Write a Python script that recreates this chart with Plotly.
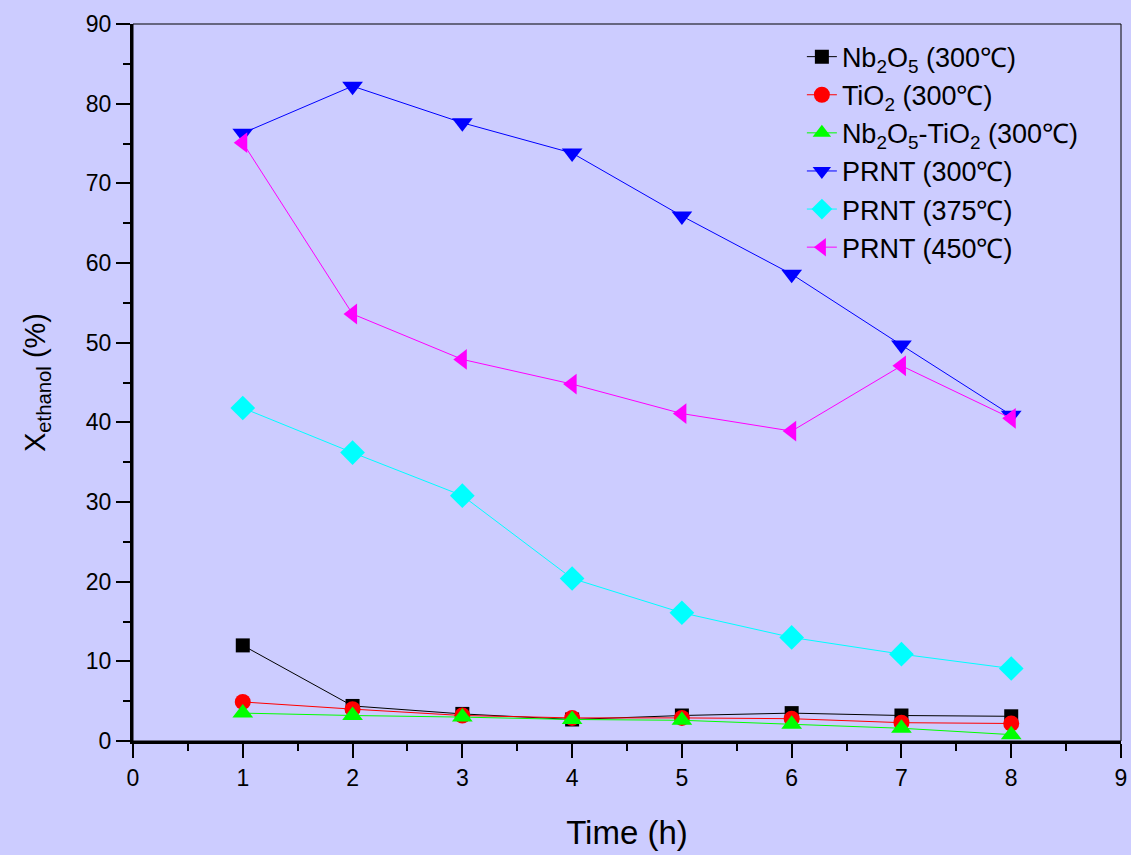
import plotly.graph_objects as go

time_h = [1, 2, 3, 4, 5, 6, 7, 8]
nb2o5_300 = [12.0, 4.4, 3.4, 2.7, 3.2, 3.5, 3.2, 3.1]
tio2_300 = [4.9, 4.0, 3.2, 2.9, 2.9, 2.8, 2.3, 2.2]
nb2o5_tio2_300 = [3.5, 3.2, 3.0, 2.7, 2.6, 2.1, 1.6, 0.8]
prnt_300 = [76.3, 82.2, 77.6, 73.8, 65.9, 58.6, 49.7, 40.9]
prnt_375 = [41.8, 36.2, 30.8, 20.4, 16.1, 13.0, 10.9, 9.1]
prnt_450 = [75.1, 53.6, 47.9, 44.8, 41.1, 38.9, 47.1, 40.5]

series = [
    ("Nb<sub>2</sub>O<sub>5</sub> (300℃)", nb2o5_300, "black", "square", 14),
    ("TiO<sub>2</sub> (300℃)", tio2_300, "red", "circle", 16),
    ("Nb<sub>2</sub>O<sub>5</sub>-TiO<sub>2</sub> (300℃)", nb2o5_tio2_300, "#00FF00", "triangle-up", 18),
    ("PRNT (300℃)", prnt_300, "blue", "triangle-down", 18),
    ("PRNT (375℃)", prnt_375, "cyan", "diamond", 19),
    ("PRNT (450℃)", prnt_450, "magenta", "triangle-left", 18),
]

fig = go.Figure()
for name, ys, color, sym, size in series:
    fig.add_trace(go.Scatter(
        x=time_h, y=ys, name=name, mode="lines+markers",
        line=dict(color=color, width=1),
        marker=dict(symbol=sym, size=size, color=color, line=dict(width=0)),
    ))

bg = "#CCCCFF"
fig.update_layout(
    width=1131, height=855,
    paper_bgcolor=bg, plot_bgcolor=bg,
    margin=dict(l=133, r=10, t=24, b=114),
    font=dict(family="Liberation Sans, Arial, sans-serif", color="black", size=22),
    legend=dict(x=0.677, y=0.988, xanchor="left", yanchor="top",
                bgcolor="rgba(0,0,0,0)", font=dict(size=27),
                tracegroupgap=0),
    showlegend=True,
)
fig.update_xaxes(
    range=[0, 9], tickmode="linear", tick0=0, dtick=1,
    ticks="outside", ticklen=14, tickwidth=2, tickcolor="black",
    minor=dict(dtick=0.5, ticks="outside", ticklen=7, tickwidth=2, tickcolor="black"),
    showline=True, linecolor="black", linewidth=3,
    showgrid=False, zeroline=False, automargin=False,
    title=dict(text="Time (h)", font=dict(size=33), standoff=32),
    tickfont=dict(size=23),
)
fig.update_yaxes(
    range=[0, 90], tickmode="linear", tick0=0, dtick=10,
    ticks="outside", ticklen=14, tickwidth=2, tickcolor="black",
    minor=dict(dtick=5, ticks="outside", ticklen=7, tickwidth=2, tickcolor="black"),
    showline=True, linecolor="black", linewidth=3,
    showgrid=False, zeroline=False, automargin=False,
    title=dict(text="X<sub>ethanol</sub> (%)", font=dict(size=29), standoff=32),
    tickfont=dict(size=23),
)
fig.add_shape(type="rect", xref="paper", yref="paper", x0=0, y0=0, x1=1, y1=1,
              line=dict(color="black", width=1), layer="below")
fig.write_html("out.html", config={"displayModeBar": False},
               post_script="document.body.style.margin='0';document.body.style.overflow='hidden';")
